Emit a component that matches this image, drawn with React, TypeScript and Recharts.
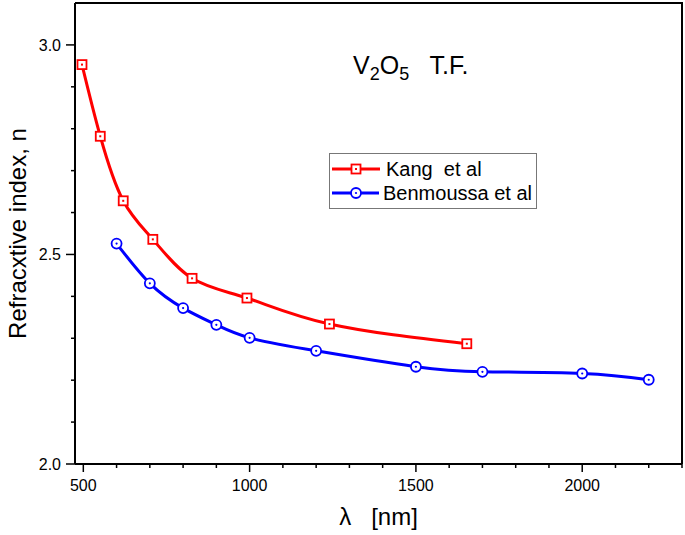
import React from 'react';
import { LineChart, Line, XAxis, YAxis, Legend } from 'recharts';

// wavelength (nm) and refractive index
const kangLambda = [496, 551, 620, 709, 827, 992, 1240, 1653];
const kangN = [2.953, 2.782, 2.628, 2.536, 2.443, 2.396, 2.334, 2.287];
const benLambda = [600, 700, 800, 900, 1000, 1200, 1500, 1700, 2000, 2200];
const benN = [2.526, 2.431, 2.372, 2.332, 2.301, 2.27, 2.232, 2.22, 2.216, 2.201];

const xTicks = [500, 600, 700, 800, 900, 1000, 1100, 1200, 1300, 1400, 1500, 1600, 1700, 1800, 1900, 2000, 2100, 2200, 2300];
const xMajor = [500, 1000, 1500, 2000];
const yTicks = [2.0, 2.1, 2.2, 2.3, 2.4, 2.5, 2.6, 2.7, 2.8, 2.9, 3.0];
const yMajor = [2.0, 2.5, 3.0];

const X_DOMAIN: [number, number] = [475, 2300];
const Y_DOMAIN: [number, number] = [2.0, 3.1];

const kangData = kangLambda.map((l, i) => ({ lambda: l, n: kangN[i] }));
const benData = benLambda.map((l, i) => ({ lambda: l, n: benN[i] }));

const FONT = '"Liberation Sans", Arial, sans-serif';

const MARGIN = { top: 3, right: 3, left: 30, bottom: 0 };
const Y_AXIS_W = 45;
const X_AXIS_H = 71;
const W = 685;
const H = 535;

const XTick = (props: any) => {
  const { x, y, payload } = props;
  const major = xMajor.includes(payload.value);
  return (
    <g>
      <line x1={x} x2={x} y1={y} y2={y + (major ? 8 : 4)} stroke="#000" strokeWidth={1.5} />
      {major && (
        <text x={x} y={y + 27} textAnchor="middle" fontSize={16} fontFamily={FONT} fill="#000">
          {payload.value}
        </text>
      )}
    </g>
  );
};

const YTick = (props: any) => {
  const { x, y, payload } = props;
  const major = yMajor.some((m) => Math.abs(m - payload.value) < 1e-6);
  return (
    <g>
      <line x1={x - (major ? 9 : 4)} x2={x} y1={y} y2={y} stroke="#000" strokeWidth={1.5} />
      {major && (
        <text x={x - 14} y={y + 6} textAnchor="end" fontSize={16} fontFamily={FONT} fill="#000">
          {payload.value.toFixed(1)}
        </text>
      )}
    </g>
  );
};

const SquareDot = (props: any) => {
  const { cx, cy } = props;
  if (cx == null || cy == null) return null;
  return (
    <g>
      <rect x={cx - 4.5} y={cy - 4.5} width={9} height={9} fill="#fff" stroke="#ff0000" strokeWidth={1.8} />
      <rect x={cx - 1} y={cy - 1} width={2} height={2} fill="#ff0000" />
    </g>
  );
};

const CircleDot = (props: any) => {
  const { cx, cy } = props;
  if (cx == null || cy == null) return null;
  return (
    <g>
      <circle cx={cx} cy={cy} r={5} fill="#fff" stroke="#0000ff" strokeWidth={1.8} />
      <circle cx={cx} cy={cy} r={1.1} fill="#0000ff" />
    </g>
  );
};

const legendItems = [
  { name: 'Kang  et al', color: '#ff0000', shape: 'square' },
  { name: 'Benmoussa et al', color: '#0000ff', shape: 'circle' },
];

const LegendBox = () => (
  <div
    style={{
      border: '1px solid #777',
      background: '#fff',
      padding: '3px 4px 3px 2px',
      fontFamily: FONT,
      fontSize: 20,
      lineHeight: '24px',
      width: 200,
    }}
  >
    {legendItems.map((it) => (
      <div key={it.name} style={{ display: 'flex', alignItems: 'center', whiteSpace: 'pre' }}>
        <svg width={50} height={24} style={{ marginRight: 4 }}>
          <line x1={0} x2={48} y1={12} y2={12} stroke={it.color} strokeWidth={3} />
          {it.shape === 'square' ? <SquareDot cx={24} cy={12} /> : <CircleDot cx={24} cy={12} />}
        </svg>
        <span>{it.name}</span>
      </div>
    ))}
  </div>
);

// plot box derived from the chart margins and axis sizes
const plotLeft = MARGIN.left + Y_AXIS_W;
const plotTop = MARGIN.top;
const plotW = W - MARGIN.right - plotLeft;
const plotH = H - MARGIN.bottom - X_AXIS_H - plotTop;

const App: React.FC = () => {
  return (
    <div
      style={{
        position: 'absolute',
        left: 0,
        top: 0,
        width: W,
        height: H,
        overflow: 'hidden',
        background: '#fff',
      }}
    >
      <LineChart width={W} height={H} margin={MARGIN}>
        <XAxis
          type="number"
          dataKey="lambda"
          domain={X_DOMAIN}
          ticks={xTicks}
          interval={0}
          tick={<XTick />}
          tickLine={false}
          tickSize={0}
          tickMargin={0}
          height={X_AXIS_H}
          axisLine={{ stroke: '#000', strokeWidth: 2 }}
          allowDataOverflow
          label={(p: any) => {
            const vb = p.viewBox;
            return (
              <text
                x={vb.x + vb.width / 2}
                y={vb.y + 61}
                textAnchor="middle"
                fontSize={24}
                fontFamily={FONT}
                style={{ whiteSpace: 'pre' }}
              >
                {'λ   [nm]'}
              </text>
            );
          }}
        />
        <YAxis
          type="number"
          domain={Y_DOMAIN}
          ticks={yTicks}
          interval={0}
          tick={<YTick />}
          tickLine={false}
          tickSize={0}
          tickMargin={0}
          width={Y_AXIS_W}
          axisLine={{ stroke: '#000', strokeWidth: 2 }}
          allowDataOverflow
          label={(p: any) => {
            const vb = p.viewBox;
            const cx = vb.x - 13;
            const cy = vb.y + vb.height / 2;
            return (
              <text
                x={cx}
                y={cy}
                transform={`rotate(-90 ${cx} ${cy})`}
                textAnchor="middle"
                dominantBaseline="central"
                fontSize={24}
                fontFamily={FONT}
              >
                Refracxtive index, n
              </text>
            );
          }}
        />
        <Legend
          layout="horizontal"
          verticalAlign="middle"
          content={<LegendBox />}
          wrapperStyle={{ left: 329, top: 153, width: 212 }}
        />
        <Line
          data={kangData}
          dataKey="n"
          type="natural"
          stroke="#ff0000"
          strokeWidth={3}
          dot={<SquareDot />}
          isAnimationActive={false}
        />
        <Line
          data={benData}
          dataKey="n"
          type="natural"
          stroke="#0000ff"
          strokeWidth={3}
          dot={<CircleDot />}
          isAnimationActive={false}
        />
      </LineChart>
      {/* top and right edges of the plot frame */}
      <div
        style={{
          position: 'absolute',
          left: plotLeft,
          top: plotTop - 1,
          width: plotW + 1,
          height: plotH + 1,
          boxSizing: 'border-box',
          borderTop: '2px solid #000',
          borderRight: '2px solid #000',
          pointerEvents: 'none',
        }}
      />
      <div
        style={{
          position: 'absolute',
          left: 353,
          top: 50,
          fontFamily: FONT,
          fontSize: 25,
          whiteSpace: 'pre',
          lineHeight: '30px',
        }}
      >
        V<sub style={{ fontSize: 18 }}>2</sub>O<sub style={{ fontSize: 18 }}>5</sub>{'   T.F.'}
      </div>
    </div>
  );
};

export default App;
